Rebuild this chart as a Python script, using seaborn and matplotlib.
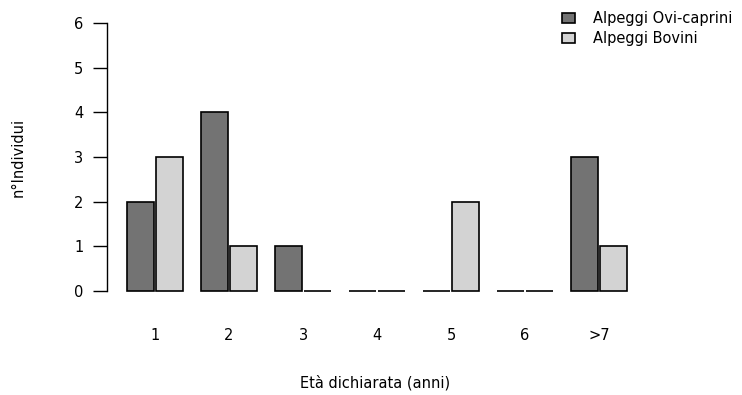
import matplotlib
matplotlib.use("Agg")
import matplotlib.pyplot as plt
import seaborn as sns
import pandas as pd

categories = ["1", "2", "3", "4", "5", "6", ">7"]
ovi_caprini = [2, 4, 1, 0, 0, 0, 3]
bovini = [3, 1, 0, 0, 2, 0, 1]
series_names = ["Alpeggi Ovi-caprini", "Alpeggi Bovini"]

df = pd.DataFrame({
    "cat": categories * 2,
    "val": ovi_caprini + bovini,
    "serie": [series_names[0]] * len(categories) + [series_names[1]] * len(categories),
})

sns.set_style("white")
plt.rcParams["font.family"] = ["DejaVu Sans"]
plt.rcParams["text.color"] = "black"
plt.rcParams["axes.labelcolor"] = "black"
plt.rcParams["xtick.color"] = "black"
plt.rcParams["ytick.color"] = "black"
FS = 10.5

W, H = 742, 395
fig = plt.figure(figsize=(W / 100, H / 100), dpi=100)
left, right = 107, 650
bottom, top = 291, 23
ax = fig.add_axes([left / W, 1 - bottom / H, (right - left) / W, (bottom - top) / H])

sns.barplot(data=df, x="cat", y="val", hue="serie", order=categories,
            hue_order=series_names, palette=["#737373", "#d3d3d3"],
            saturation=1, width=0.784, gap=0.1, edgecolor="black",
            linewidth=1.2, ax=ax)

for p in ax.patches:
    p.set_clip_on(False)

g0 = 155
gs = 74
ax.set_xlim((left - g0) / gs, (right - g0) / gs)
ax.set_ylim(0, 6)
ax.set_yticks(range(0, 7))
for s in ["top", "right", "bottom"]:
    ax.spines[s].set_visible(False)
ax.spines["left"].set_bounds(0, 6)
ax.spines["left"].set_color("black")
ax.spines["left"].set_linewidth(1.0)
ax.tick_params(axis="y", length=10, width=1.0, pad=7, labelsize=FS, direction="out", left=True,
               colors="black", labelcolor="black")
ax.tick_params(axis="x", length=0, pad=27, labelsize=FS, colors="black", labelcolor="black")
ax.set_xlabel("")
ax.set_ylabel("")

handles, labels = ax.get_legend_handles_labels()
ax.get_legend().remove()
leg = fig.legend(handles, labels, loc="upper left", bbox_to_anchor=(562 / W, 1 - 11 / H),
                 frameon=False, fontsize=FS, handlelength=0.9, handleheight=0.7,
                 handletextpad=1.2, labelspacing=0.35, borderaxespad=0, borderpad=0)
for t in leg.get_texts():
    t.set_color("black")

fig.text(375 / W, 1 - 383 / H, "Età dichiarata (anni)", ha="center", va="center", fontsize=FS, color="black")
fig.text(18 / W, 1 - 157 / H, "n°Individui", ha="center", va="center", rotation=90, fontsize=FS, color="black")

fig.savefig("out.png", dpi=100)
